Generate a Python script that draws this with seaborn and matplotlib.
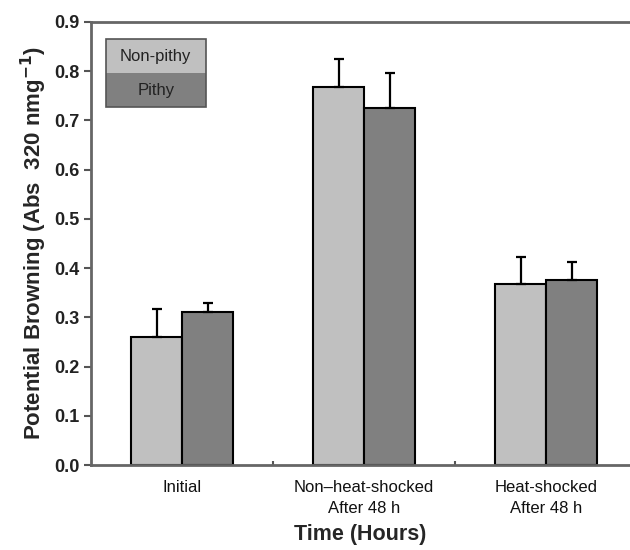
import numpy as np
import pandas as pd
import matplotlib
matplotlib.use("Agg")
import matplotlib.pyplot as plt
import seaborn as sns
from matplotlib.patches import Rectangle

# data
categories = ["Initial", "Non\u2013heat-shocked\nAfter 48 h", "Heat-shocked\nAfter 48 h"]
non_pithy = [0.26, 0.768, 0.367]
pithy = [0.31, 0.726, 0.376]
non_pithy_err = [0.057, 0.057, 0.056]
pithy_err = [0.019, 0.071, 0.037]

groups = ["Non-pithy", "Pithy"]
colors = ["#c0c0c0", "#808080"]

df = pd.DataFrame({
    "cat": categories * 2,
    "group": [groups[0]] * 3 + [groups[1]] * 3,
    "val": non_pithy + pithy,
    "err": non_pithy_err + pithy_err,
})

sns.set_style("white")
plt.rcParams["font.family"] = ["Liberation Sans", "DejaVu Sans"]

fig = plt.figure(figsize=(6.3, 5.5), dpi=100)
ax = fig.add_axes([0.1445, 0.1545, 0.8555, 0.8055])

sns.barplot(data=df, x="cat", y="val", hue="group", order=categories,
            hue_order=groups, palette=colors, width=0.56, edgecolor="black",
            linewidth=1.5, saturation=1, errorbar=None, legend=False, ax=ax)

# one-sided error bars on top of each bar
for p, (_, row) in zip(ax.patches, df.iterrows()):
    xc = p.get_x() + p.get_width() / 2
    ax.errorbar(xc, p.get_height(), yerr=[[0], [row["err"]]], fmt="none",
                ecolor="black", elinewidth=1.6, capsize=3.5, capthick=1.6, zorder=1)

ax.set_ylim(0, 0.9)
ax.set_xlim(-0.5, 2.46)
ax.set_yticks(np.arange(0, 0.91, 0.1))
ax.set_yticklabels([f"{v:.1f}" for v in np.arange(0, 0.91, 0.1)],
                   fontsize=13, fontweight="bold", color="#222222")
ax.tick_params(axis="y", direction="out", length=5, width=1.5, color="#555555",
               left=True, pad=3)
ax.tick_params(axis="x", length=0, pad=11, labelsize=12, labelcolor="#111111")
for lbl in ax.get_xticklabels():
    lbl.set_linespacing(1.45)
ax.set_xticks([0.5, 1.5], minor=True)
ax.tick_params(axis="x", which="minor", direction="in", length=3, width=1.5,
               color="#555555", bottom=True)

for side in ["left", "bottom", "top"]:
    ax.spines[side].set_color("#666666")
    ax.spines[side].set_linewidth(2)
ax.spines["right"].set_visible(False)

ax.set_xlabel("Time (Hours)", fontsize=15.5, fontweight="bold", labelpad=6)
ax.set_ylabel("Potential Browning (Abs  320 nmg$^{\\mathbf{-1}}$)", fontsize=16,
              fontweight="bold", labelpad=4)

# boxed legend: two filled rows with text inside
ax.add_patch(Rectangle((0.027, 0.885), 0.186, 0.077, transform=ax.transAxes,
                       facecolor=colors[0], edgecolor="none", zorder=5))
ax.add_patch(Rectangle((0.027, 0.808), 0.186, 0.077, transform=ax.transAxes,
                       facecolor=colors[1], edgecolor="none", zorder=5))
ax.add_patch(Rectangle((0.027, 0.808), 0.186, 0.154, transform=ax.transAxes,
                       facecolor="none", edgecolor="#555555", linewidth=1.2, zorder=6))
ax.text(0.12, 0.923, "Non-pithy", transform=ax.transAxes, ha="center", va="center",
        fontsize=12, color="#222222", zorder=7)
ax.text(0.12, 0.846, "Pithy", transform=ax.transAxes, ha="center", va="center",
        fontsize=12, color="#222222", zorder=7)

fig.savefig("out.png", dpi=100)
